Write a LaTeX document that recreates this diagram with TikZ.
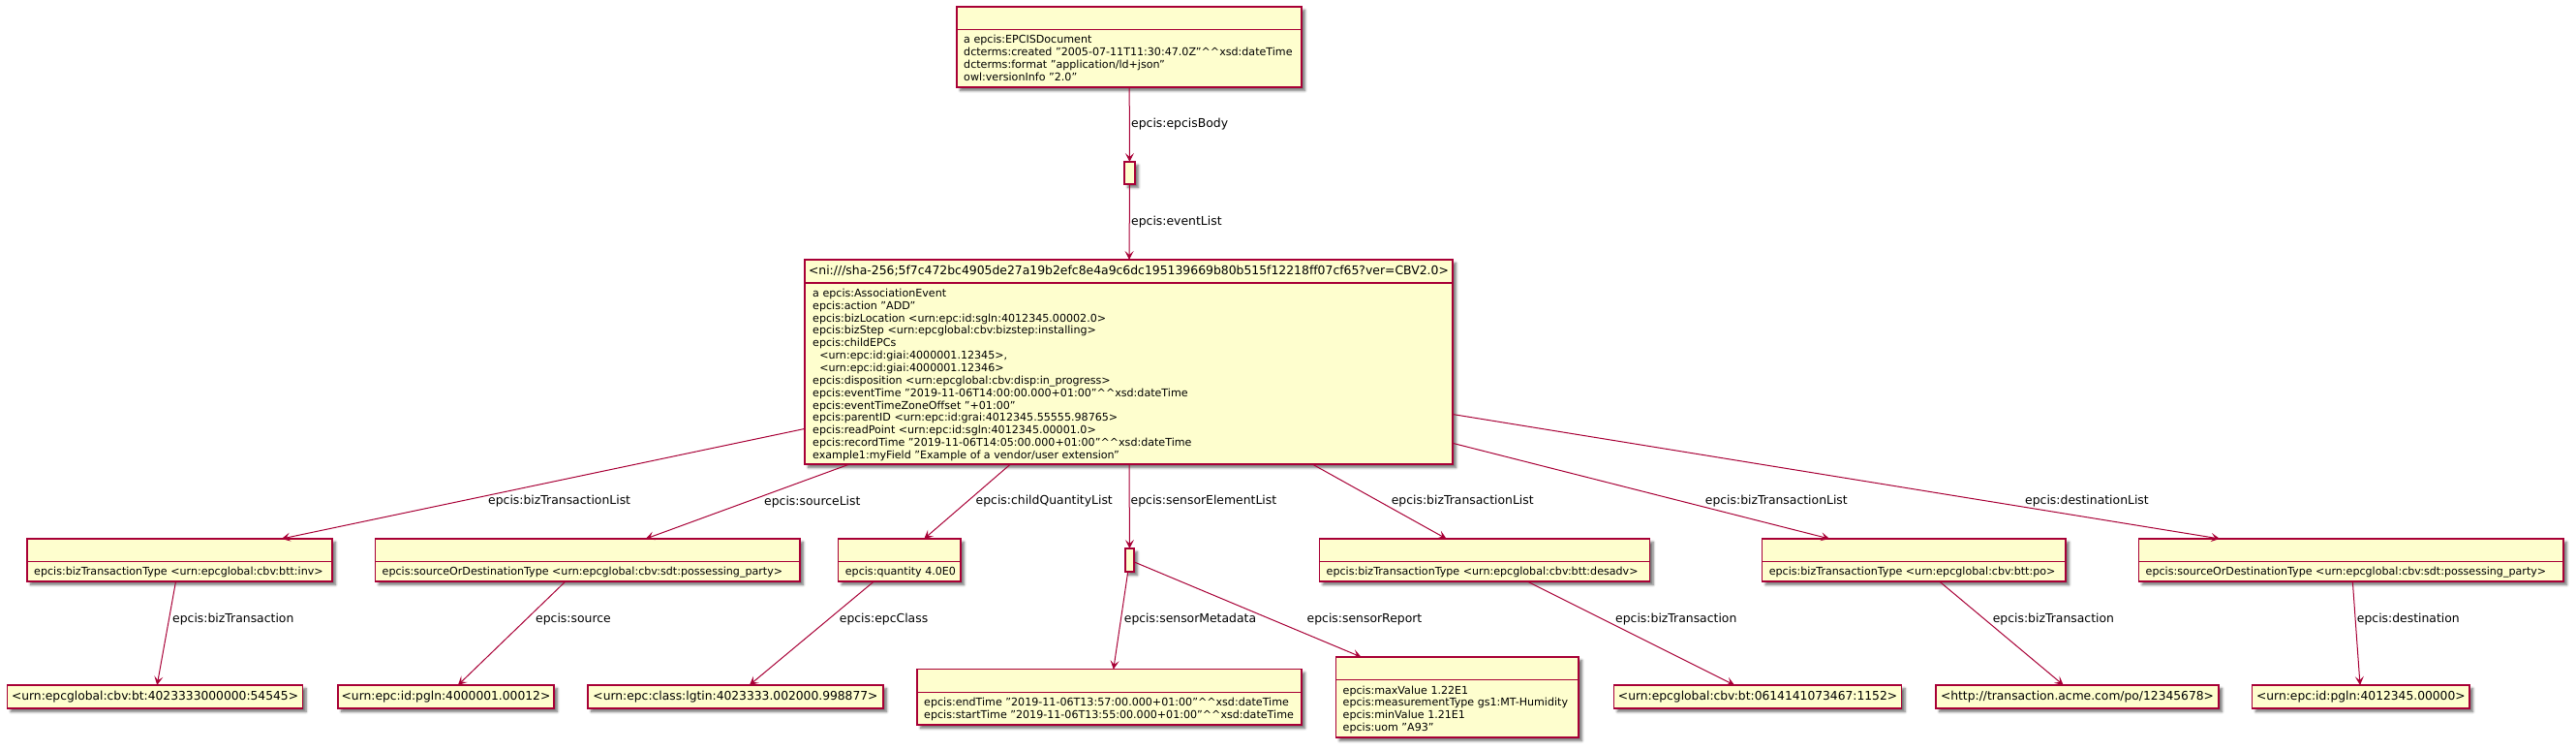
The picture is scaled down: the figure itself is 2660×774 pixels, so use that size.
\documentclass[tikz,border=0pt]{standalone}
\usepackage{fontspec}
\setmainfont{DejaVu Sans}[Ligatures=NoCommon]
\usetikzlibrary{arrows.meta,shadows.blur,calc}
\definecolor{pfill}{HTML}{FEFECE}
\definecolor{pline}{HTML}{A80036}
\newcommand\hats{\textasciicircum\textasciicircum}
\newcommand\ind{\hspace*{0.636em}}
\tikzset{
  shad/.style={blur shadow={shadow xshift=3.5pt,shadow yshift=-3.5pt,shadow blur radius=2.5pt,shadow blur steps=6,shadow opacity=55}},
  cls/.style={draw=pline, fill=pfill, line width=1.25pt, inner sep=0pt, outer sep=0pt, shad},
  sepline/.style={draw=pline, line width=1.25pt},
  attr/.style={inner sep=0pt, align=left, anchor=north west, font=\fontsize{11.1}{12.85}\selectfont},
  ttl/.style={inner sep=0pt, font=\fontsize{12.4}{14}\selectfont},
  leaf/.style={cls, minimum height=24pt, font=\fontsize{12.3}{14}\selectfont},
  lbl/.style={inner sep=0pt, anchor=west, font=\fontsize{12.4}{14}\selectfont},
  edge/.style={draw=pline, line width=1pt, -{Stealth[length=9pt,width=9pt,inset=4pt]}},
}
% name, x, y, width, height, title-row height
\newcommand\ClsBox[6]{%
  \node[cls, minimum width=#4pt, minimum height=#5pt, anchor=north west] (#1) at (#2,#3) {};
  \draw[sepline] ($(#1.north west)+(0,#6)$) -- ($(#1.north east)+(0,#6)$);
}
\begin{document}
\begin{tikzpicture}[x=1pt,y=-1pt]
\useasboundingbox (0,0) rectangle (2660,774);

% ---------- top document box ----------
\ClsBox{doc}{988}{7}{356}{83}{23.5}
\node[attr] (doc-t) at ($(doc.north west)+(7,28.7)$) {%
\strut a epcis:EPCISDocument\\
\strut dcterms:created "2005-07-11T11:30:47.0Z"\hats xsd:dateTime\\
\strut dcterms:format "application/ld+json"\\
\strut owl:versionInfo "2.0"};

% ---------- blank node (epcisBody) ----------
\node[cls, minimum width=11pt, minimum height=23pt] (body) at (1166.5,178.5) {};

% ---------- main event box ----------
\ClsBox{main}{831}{268}{669}{211}{24}
\node[ttl] (main-n) at ($(main.north)+(0,12)$) {<ni:///sha-256;5f7c472bc4905de27a19b2efc8e4a9c6dc195139669b80b515f12218ff07cf65?ver=CBV2.0>};
\node[attr] (main-t) at ($(main.north west)+(8,29.2)$) {%
\strut a epcis:AssociationEvent\\
\strut epcis:action "ADD"\\
\strut epcis:bizLocation <urn:epc:id:sgln:4012345.00002.0>\\
\strut epcis:bizStep <urn:epcglobal:cbv:bizstep:installing>\\
\strut epcis:childEPCs\\
\strut\ind <urn:epc:id:giai:4000001.12345>,\\
\strut\ind <urn:epc:id:giai:4000001.12346>\\
\strut epcis:disposition <urn:epcglobal:cbv:disp:in\_progress>\\
\strut epcis:eventTime "2019-11-06T14:00:00.000+01:00"\hats xsd:dateTime\\
\strut epcis:eventTimeZoneOffset "+01:00"\\
\strut epcis:parentID <urn:epc:id:grai:4012345.55555.98765>\\
\strut epcis:readPoint <urn:epc:id:sgln:4012345.00001.0>\\
\strut epcis:recordTime "2019-11-06T14:05:00.000+01:00"\hats xsd:dateTime\\
\strut example1:myField "Example of a vendor/user extension"};

% ---------- second row ----------
\ClsBox{b1}{28}{556}{315}{44}{23.5}
\node[attr] (b1-t) at ($(b1.north west)+(7,28.7)$) {\strut epcis:bizTransactionType <urn:epcglobal:cbv:btt:inv>};
\ClsBox{b2}{387.5}{556}{438.5}{44}{23.5}
\node[attr] (b2-t) at ($(b2.north west)+(7,28.7)$) {\strut epcis:sourceOrDestinationType <urn:epcglobal:cbv:sdt:possessing\_party>};
\ClsBox{b3}{865.7}{556}{126.3}{44}{23.5}
\node[attr] (b3-t) at ($(b3.north west)+(7,28.7)$) {\strut epcis:quantity 4.0E0};
\node[cls, minimum width=9pt, minimum height=24pt] (sens) at (1166.5,578) {};
\ClsBox{b4}{1362.5}{556}{341.1}{44}{23.5}
\node[attr] (b4-t) at ($(b4.north west)+(7,28.7)$) {\strut epcis:bizTransactionType <urn:epcglobal:cbv:btt:desadv>};
\ClsBox{b5}{1819.6}{556}{313.4}{44}{23.5}
\node[attr] (b5-t) at ($(b5.north west)+(7,28.7)$) {\strut epcis:bizTransactionType <urn:epcglobal:cbv:btt:po>};
\ClsBox{b6}{2208.5}{556}{438.5}{44}{23.5}
\node[attr] (b6-t) at ($(b6.north west)+(7,28.7)$) {\strut epcis:sourceOrDestinationType <urn:epcglobal:cbv:sdt:possessing\_party>};

% ---------- third row ----------
\node[leaf, minimum width=304.9pt] (l1) at (160.05,719) {<urn:epcglobal:cbv:bt:4023333000000:54545>};
\node[leaf, minimum width=223pt] (l2) at (460.5,719) {<urn:epc:id:pgln:4000001.00012>};
\node[leaf, minimum width=305pt] (l3) at (759.5,719) {<urn:epc:class:lgtin:4023333.002000.998877>};
\ClsBox{meta}{947}{690.7}{397}{57.3}{23.8}
\node[attr] (meta-t) at ($(meta.north west)+(7,29)$) {%
\strut epcis:endTime "2019-11-06T13:57:00.000+01:00"\hats xsd:dateTime\\
\strut epcis:startTime "2019-11-06T13:55:00.000+01:00"\hats xsd:dateTime};
\ClsBox{rep}{1379.5}{678}{250.5}{83}{23.7}
\node[attr] (rep-t) at ($(rep.north west)+(7,28.9)$) {%
\strut epcis:maxValue 1.22E1\\
\strut epcis:measurementType gs1:MT-Humidity\\
\strut epcis:minValue 1.21E1\\
\strut epcis:uom "A93"};
\node[leaf, minimum width=297.1pt] (l4) at (1815.05,719) {<urn:epcglobal:cbv:bt:0614141073467:1152>};
\node[leaf, minimum width=292pt] (l5) at (2145,719) {<http://transaction.acme.com/po/12345678>};
\node[leaf, minimum width=224.3pt] (l6) at (2437.85,719) {<urn:epc:id:pgln:4012345.00000>};

% ---------- connectors ----------
\draw[edge] (doc) -- (body);
\draw[edge] (body) -- (main);
\draw[edge] (main) -- (b1);
\draw[edge] (main) -- (b2);
\draw[edge] (main) -- (b3);
\draw[edge] (main) -- (sens);
\draw[edge] (main) -- (b4);
\draw[edge] (main) -- (b5);
\draw[edge] (main) -- (b6);
\draw[edge] (b1) -- (l1);
\draw[edge] (b2) -- (l2);
\draw[edge] (b3) -- (l3);
\draw[edge] (sens) -- (meta);
\draw[edge] (sens) -- (rep);
\draw[edge] (b4) -- (l4);
\draw[edge] (b5) -- (l5);
\draw[edge] (b6) -- (l6);

% ---------- connector labels ----------
\node[lbl] (lb1) at (1168,128.5) {epcis:epcisBody};
\node[lbl] (lb2) at (1168,229.5) {epcis:eventList};
\node[lbl] (lb3) at (504,517) {epcis:bizTransactionList};
\node[lbl] (lb4) at (789,518) {epcis:sourceList};
\node[lbl] (lb5) at (1007.5,517) {epcis:childQuantityList};
\node[lbl] (lb6) at (1167.5,517) {epcis:sensorElementList};
\node[lbl] (lb7) at (1436.6,517) {epcis:bizTransactionList};
\node[lbl] (lb8) at (1760.7,517) {epcis:bizTransactionList};
\node[lbl] (lb9) at (2091,517) {epcis:destinationList};
\node[lbl] (lb10) at (178,639) {epcis:bizTransaction};
\node[lbl] (lb11) at (553,639) {epcis:source};
\node[lbl] (lb12) at (866.7,639) {epcis:epcClass};
\node[lbl] (lb13) at (1160.7,639) {epcis:sensorMetadata};
\node[lbl] (lb14) at (1349.5,639) {epcis:sensorReport};
\node[lbl] (lb15) at (1668,639) {epcis:bizTransaction};
\node[lbl] (lb16) at (2057.6,639) {epcis:bizTransaction};
\node[lbl] (lb17) at (2433.7,639) {epcis:destination};
\end{tikzpicture}
\end{document}
